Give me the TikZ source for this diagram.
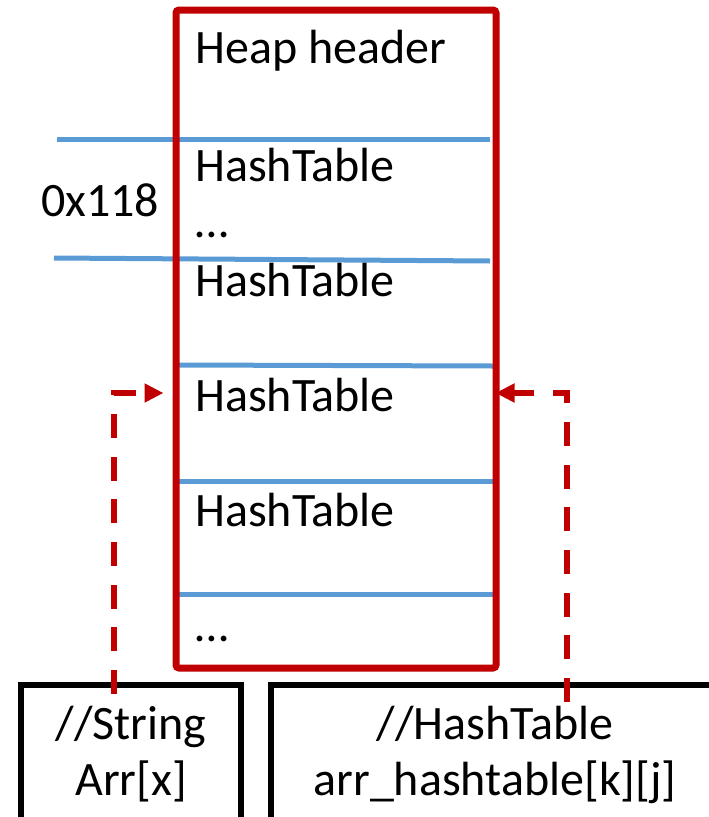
\documentclass[tikz,border=0pt]{standalone}
\usepackage{fontspec}
\setmainfont{Carlito}
\usetikzlibrary{arrows.meta}
\definecolor{heapred}{HTML}{C00000}
\definecolor{sepblue}{HTML}{5B9BD5}
\tikzset{
  sep/.style={draw=sepblue, line width=5pt},
  heapbox/.style={draw=heapred, line width=7pt, rounded corners=3pt, rectangle, inner sep=0pt},
  varbox/.style={draw=black, line width=6pt, rectangle, inner sep=0pt},
  lbl/.style={font=\fontsize{48}{56}\selectfont, inner sep=0pt, anchor=base west},
  clbl/.style={font=\fontsize{48}{56}\selectfont, inner sep=0pt, anchor=base},
  ptr/.style={draw=heapred, line width=6pt, dash pattern=on 24pt off 18.7pt,
    -{Triangle[length=19pt,width=18pt]}},
}
\begin{document}
\begin{tikzpicture}[x=1pt,y=-1pt]
\useasboundingbox (0,0) rectangle (709,817);
% separators
\draw[sep] (57,139) -- (490,139);
\draw[sep] (54,258) -- (490,261);
\draw[sep] (176,365) -- (493,366);
\draw[sep] (176,481) -- (493,481);
\draw[sep] (176,594) -- (495,594);
% heap
\node[heapbox, minimum width=320pt, minimum height=658pt] (heap) at (336,339) {};
% labels
\node[lbl] (hh) at (195,63) {Heap header};
\node[lbl] (h1) at (195,181) {HashTable};
\node[lbl] (d1) at (195,237) {…};
\node[lbl] (h2) at (195,296) {HashTable};
\node[lbl] (h3) at (195,411) {HashTable};
\node[lbl] (h4) at (195,526) {HashTable};
\node[lbl] (d2) at (195,641) {…};
\node[lbl] (off) at (41,216) {0x118};
% variable boxes
\node[varbox, minimum width=220pt, minimum height=170pt] (lb) at (131,770) {};
\node[varbox, minimum width=470pt, minimum height=170pt] (rb) at (506,770) {};
\node[clbl] (l1) at (131,739) {//String};
\node[clbl] (l2) at (131,795) {Arr[x]};
\node[clbl] (r1) at (495,739) {//HashTable};
\node[clbl] (r2) at (495,795) {arr\_hashtable[k][j]};
% pointers
\coordinate (ls) at (114,694);
\coordinate (rs) at (567,702);
\draw[ptr, shorten >=9pt] (ls) |- (heap.west |- 0,393);
\draw[ptr, shorten >=-4pt] (rs) |- (heap.east |- 0,393);
\end{tikzpicture}
\end{document}
